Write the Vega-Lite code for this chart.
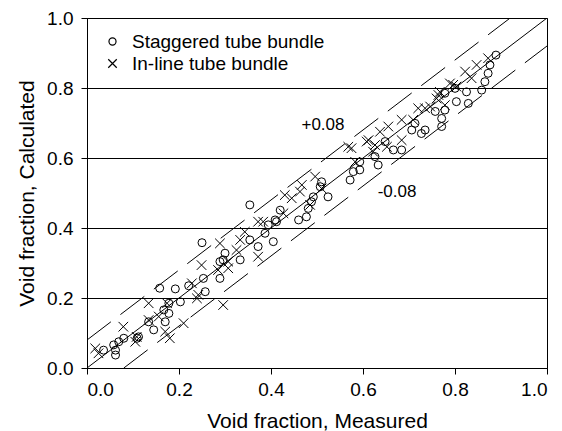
{
  "$schema": "https://vega.github.io/schema/vega-lite/v6.json",
  "width": 460,
  "height": 350,
  "autosize": {"type": "none"},
  "padding": {"left": 87, "top": 18, "right": 15, "bottom": 63},
  "background": "white",
  "config": {
    "view": {"stroke": "black", "strokeWidth": 1},
    "font": "Liberation Sans",
    "axis": {
      "domainColor": "black", "tickColor": "black", "labelColor": "black", "titleColor": "black",
      "labelFontSize": 19, "titleFontSize": 21, "titleFontWeight": "normal", "tickSize": 6,
      "labelFont": "Liberation Sans", "titleFont": "Liberation Sans"
    }
  },
  "datasets": {
    "pts": [
      {"m":0.036,"c":0.051,"t":"Staggered tube bundle"},
      {"m":0.058,"c":0.066,"t":"Staggered tube bundle"},
      {"m":0.062,"c":0.051,"t":"Staggered tube bundle"},
      {"m":0.062,"c":0.037,"t":"Staggered tube bundle"},
      {"m":0.069,"c":0.075,"t":"Staggered tube bundle"},
      {"m":0.080,"c":0.085,"t":"Staggered tube bundle"},
      {"m":0.109,"c":0.085,"t":"Staggered tube bundle"},
      {"m":0.112,"c":0.089,"t":"Staggered tube bundle"},
      {"m":0.145,"c":0.109,"t":"Staggered tube bundle"},
      {"m":0.134,"c":0.132,"t":"Staggered tube bundle"},
      {"m":0.170,"c":0.132,"t":"Staggered tube bundle"},
      {"m":0.178,"c":0.156,"t":"Staggered tube bundle"},
      {"m":0.167,"c":0.166,"t":"Staggered tube bundle"},
      {"m":0.178,"c":0.185,"t":"Staggered tube bundle"},
      {"m":0.203,"c":0.189,"t":"Staggered tube bundle"},
      {"m":0.158,"c":0.228,"t":"Staggered tube bundle"},
      {"m":0.192,"c":0.226,"t":"Staggered tube bundle"},
      {"m":0.221,"c":0.235,"t":"Staggered tube bundle"},
      {"m":0.257,"c":0.218,"t":"Staggered tube bundle"},
      {"m":0.253,"c":0.256,"t":"Staggered tube bundle"},
      {"m":0.289,"c":0.256,"t":"Staggered tube bundle"},
      {"m":0.250,"c":0.358,"t":"Staggered tube bundle"},
      {"m":0.300,"c":0.328,"t":"Staggered tube bundle"},
      {"m":0.296,"c":0.309,"t":"Staggered tube bundle"},
      {"m":0.333,"c":0.309,"t":"Staggered tube bundle"},
      {"m":0.289,"c":0.304,"t":"Staggered tube bundle"},
      {"m":0.354,"c":0.466,"t":"Staggered tube bundle"},
      {"m":0.420,"c":0.451,"t":"Staggered tube bundle"},
      {"m":0.412,"c":0.418,"t":"Staggered tube bundle"},
      {"m":0.394,"c":0.409,"t":"Staggered tube bundle"},
      {"m":0.405,"c":0.361,"t":"Staggered tube bundle"},
      {"m":0.354,"c":0.366,"t":"Staggered tube bundle"},
      {"m":0.372,"c":0.347,"t":"Staggered tube bundle"},
      {"m":0.409,"c":0.423,"t":"Staggered tube bundle"},
      {"m":0.387,"c":0.385,"t":"Staggered tube bundle"},
      {"m":0.460,"c":0.423,"t":"Staggered tube bundle"},
      {"m":0.477,"c":0.432,"t":"Staggered tube bundle"},
      {"m":0.481,"c":0.456,"t":"Staggered tube bundle"},
      {"m":0.488,"c":0.475,"t":"Staggered tube bundle"},
      {"m":0.492,"c":0.489,"t":"Staggered tube bundle"},
      {"m":0.524,"c":0.489,"t":"Staggered tube bundle"},
      {"m":0.507,"c":0.518,"t":"Staggered tube bundle"},
      {"m":0.510,"c":0.532,"t":"Staggered tube bundle"},
      {"m":0.572,"c":0.537,"t":"Staggered tube bundle"},
      {"m":0.579,"c":0.561,"t":"Staggered tube bundle"},
      {"m":0.593,"c":0.589,"t":"Staggered tube bundle"},
      {"m":0.593,"c":0.566,"t":"Staggered tube bundle"},
      {"m":0.626,"c":0.604,"t":"Staggered tube bundle"},
      {"m":0.633,"c":0.580,"t":"Staggered tube bundle"},
      {"m":0.648,"c":0.647,"t":"Staggered tube bundle"},
      {"m":0.666,"c":0.623,"t":"Staggered tube bundle"},
      {"m":0.684,"c":0.623,"t":"Staggered tube bundle"},
      {"m":0.706,"c":0.680,"t":"Staggered tube bundle"},
      {"m":0.713,"c":0.699,"t":"Staggered tube bundle"},
      {"m":0.727,"c":0.670,"t":"Staggered tube bundle"},
      {"m":0.735,"c":0.680,"t":"Staggered tube bundle"},
      {"m":0.757,"c":0.733,"t":"Staggered tube bundle"},
      {"m":0.778,"c":0.737,"t":"Staggered tube bundle"},
      {"m":0.771,"c":0.713,"t":"Staggered tube bundle"},
      {"m":0.771,"c":0.690,"t":"Staggered tube bundle"},
      {"m":0.803,"c":0.761,"t":"Staggered tube bundle"},
      {"m":0.829,"c":0.756,"t":"Staggered tube bundle"},
      {"m":0.825,"c":0.789,"t":"Staggered tube bundle"},
      {"m":0.778,"c":0.785,"t":"Staggered tube bundle"},
      {"m":0.800,"c":0.799,"t":"Staggered tube bundle"},
      {"m":0.858,"c":0.794,"t":"Staggered tube bundle"},
      {"m":0.865,"c":0.818,"t":"Staggered tube bundle"},
      {"m":0.872,"c":0.842,"t":"Staggered tube bundle"},
      {"m":0.876,"c":0.866,"t":"Staggered tube bundle"},
      {"m":0.889,"c":0.894,"t":"Staggered tube bundle"},
      {"m":0.018,"c":0.056,"t":"In-line tube bundle"},
      {"m":0.025,"c":0.042,"t":"In-line tube bundle"},
      {"m":0.079,"c":0.118,"t":"In-line tube bundle"},
      {"m":0.108,"c":0.089,"t":"In-line tube bundle"},
      {"m":0.105,"c":0.075,"t":"In-line tube bundle"},
      {"m":0.134,"c":0.185,"t":"In-line tube bundle"},
      {"m":0.134,"c":0.137,"t":"In-line tube bundle"},
      {"m":0.156,"c":0.147,"t":"In-line tube bundle"},
      {"m":0.174,"c":0.185,"t":"In-line tube bundle"},
      {"m":0.180,"c":0.085,"t":"In-line tube bundle"},
      {"m":0.170,"c":0.104,"t":"In-line tube bundle"},
      {"m":0.210,"c":0.128,"t":"In-line tube bundle"},
      {"m":0.239,"c":0.199,"t":"In-line tube bundle"},
      {"m":0.228,"c":0.242,"t":"In-line tube bundle"},
      {"m":0.296,"c":0.180,"t":"In-line tube bundle"},
      {"m":0.242,"c":0.209,"t":"In-line tube bundle"},
      {"m":0.249,"c":0.294,"t":"In-line tube bundle"},
      {"m":0.285,"c":0.280,"t":"In-line tube bundle"},
      {"m":0.307,"c":0.285,"t":"In-line tube bundle"},
      {"m":0.307,"c":0.304,"t":"In-line tube bundle"},
      {"m":0.325,"c":0.337,"t":"In-line tube bundle"},
      {"m":0.289,"c":0.356,"t":"In-line tube bundle"},
      {"m":0.333,"c":0.366,"t":"In-line tube bundle"},
      {"m":0.343,"c":0.389,"t":"In-line tube bundle"},
      {"m":0.372,"c":0.418,"t":"In-line tube bundle"},
      {"m":0.372,"c":0.318,"t":"In-line tube bundle"},
      {"m":0.383,"c":0.418,"t":"In-line tube bundle"},
      {"m":0.427,"c":0.442,"t":"In-line tube bundle"},
      {"m":0.430,"c":0.494,"t":"In-line tube bundle"},
      {"m":0.445,"c":0.485,"t":"In-line tube bundle"},
      {"m":0.463,"c":0.504,"t":"In-line tube bundle"},
      {"m":0.467,"c":0.523,"t":"In-line tube bundle"},
      {"m":0.496,"c":0.547,"t":"In-line tube bundle"},
      {"m":0.510,"c":0.513,"t":"In-line tube bundle"},
      {"m":0.485,"c":0.466,"t":"In-line tube bundle"},
      {"m":0.568,"c":0.632,"t":"In-line tube bundle"},
      {"m":0.583,"c":0.589,"t":"In-line tube bundle"},
      {"m":0.575,"c":0.628,"t":"In-line tube bundle"},
      {"m":0.608,"c":0.647,"t":"In-line tube bundle"},
      {"m":0.626,"c":0.637,"t":"In-line tube bundle"},
      {"m":0.612,"c":0.651,"t":"In-line tube bundle"},
      {"m":0.622,"c":0.618,"t":"In-line tube bundle"},
      {"m":0.637,"c":0.675,"t":"In-line tube bundle"},
      {"m":0.655,"c":0.690,"t":"In-line tube bundle"},
      {"m":0.652,"c":0.632,"t":"In-line tube bundle"},
      {"m":0.684,"c":0.651,"t":"In-line tube bundle"},
      {"m":0.684,"c":0.709,"t":"In-line tube bundle"},
      {"m":0.709,"c":0.709,"t":"In-line tube bundle"},
      {"m":0.720,"c":0.742,"t":"In-line tube bundle"},
      {"m":0.735,"c":0.742,"t":"In-line tube bundle"},
      {"m":0.746,"c":0.747,"t":"In-line tube bundle"},
      {"m":0.760,"c":0.770,"t":"In-line tube bundle"},
      {"m":0.764,"c":0.780,"t":"In-line tube bundle"},
      {"m":0.767,"c":0.789,"t":"In-line tube bundle"},
      {"m":0.778,"c":0.751,"t":"In-line tube bundle"},
      {"m":0.789,"c":0.813,"t":"In-line tube bundle"},
      {"m":0.796,"c":0.809,"t":"In-line tube bundle"},
      {"m":0.803,"c":0.804,"t":"In-line tube bundle"},
      {"m":0.822,"c":0.847,"t":"In-line tube bundle"},
      {"m":0.836,"c":0.828,"t":"In-line tube bundle"},
      {"m":0.847,"c":0.866,"t":"In-line tube bundle"},
      {"m":0.872,"c":0.885,"t":"In-line tube bundle"}
    ],
    "lines": [
      {"m":0,"c":0,"g":"fit"},{"m":1,"c":1,"g":"fit"}
    ],
    "bands": [
      {"m":0,"c":0.08,"g":"upper"},{"m":0.92,"c":1,"g":"upper"},
      {"m":0.08,"c":0,"g":"lower"},{"m":1,"c":0.92,"g":"lower"}
    ],
    "labels": [
      {"m":0.513,"c":0.694,"txt":"+0.08"},
      {"m":0.674,"c":0.502,"txt":"-0.08"}
    ]
  },
  "layer": [
    {
      "data": {"name": "lines"},
      "mark": {"type": "line", "color": "black", "strokeWidth": 1, "clip": true},
      "encoding": {
        "x": {"field": "m", "type": "quantitative", "scale": {"domain": [0, 1], "nice": false, "zero": false},
          "axis": {"values": [0, 0.2, 0.4, 0.6, 0.8, 1], "format": ".1f", "grid": false, "title": "Void fraction, Measured", "titlePadding": 11, "labelPadding": 6}},
        "y": {"field": "c", "type": "quantitative", "scale": {"domain": [0, 1], "nice": false, "zero": false},
          "axis": {"values": [0, 0.2, 0.4, 0.6, 0.8, 1], "format": ".1f", "grid": true, "gridColor": "black", "gridOpacity": 1, "gridWidth": 1, "title": "Void fraction, Calculated", "titlePadding": 9, "labelPadding": 8}},
        "detail": {"field": "g"}
      }
    },
    {
      "data": {"name": "bands"},
      "mark": {"type": "line", "color": "black", "strokeWidth": 1, "strokeDash": [30, 12], "clip": true},
      "encoding": {
        "x": {"field": "m", "type": "quantitative"},
        "y": {"field": "c", "type": "quantitative"},
        "detail": {"field": "g"}
      }
    },
    {
      "data": {"name": "pts"},
      "mark": {"type": "point", "filled": false, "color": "black", "strokeWidth": 1, "opacity": 1, "size": 64},
      "encoding": {
        "x": {"field": "m", "type": "quantitative"},
        "y": {"field": "c", "type": "quantitative"},
        "shape": {"field": "t", "type": "nominal",
          "scale": {"domain": ["Staggered tube bundle", "In-line tube bundle"], "range": ["circle", "M-1.2,-1.2L1.2,1.2M1.2,-1.2L-1.2,1.2"]},
          "legend": {"title": null, "orient": "none", "legendX": 16, "legendY": 14, "labelFontSize": 19, "labelLimit": 400, "labelColor": "black", "labelFont": "Liberation Sans", "symbolSize": 50, "symbolStrokeColor": "black", "symbolStrokeWidth": 1.2, "symbolFillColor": "transparent", "rowPadding": 2, "labelOffset": 10}}
      }
    },
    {
      "data": {"name": "labels"},
      "mark": {"type": "text", "fontSize": 17, "color": "black", "font": "Liberation Sans", "align": "center", "baseline": "middle"},
      "encoding": {
        "x": {"field": "m", "type": "quantitative"},
        "y": {"field": "c", "type": "quantitative"},
        "text": {"field": "txt"}
      }
    }
  ]
}
